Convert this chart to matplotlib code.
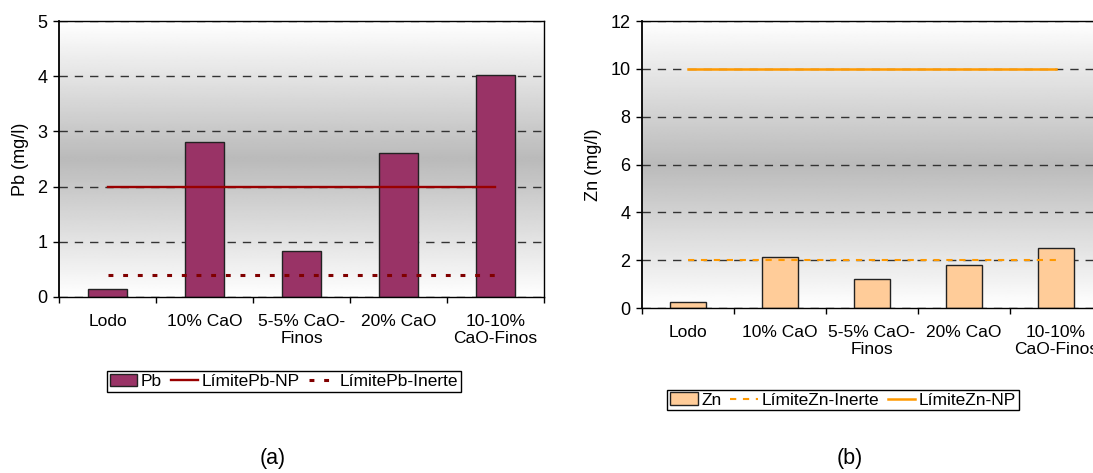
import numpy as np
import matplotlib
matplotlib.use('Agg')
import matplotlib.pyplot as plt

## Data
categorias = ['Lodo', '10% CaO', '5-5% CaO-\nFinos', '20% CaO', '10-10%\nCaO-Finos']
pb = [0.15, 2.80, 0.83, 2.60, 4.02]
pbLimiteNP = 2.0
pbLimiteInerte = 0.4
zn = [0.25, 2.15, 1.22, 1.80, 2.52]
znLimiteInerte = 2.0
znLimiteNP = 10.0

plt.rcParams['font.family'] = ['Liberation Sans', 'DejaVu Sans']

fig = plt.figure(figsize=(10.93, 4.73), dpi=100)
axA = fig.add_axes([0.054, 0.3721, 0.4437, 0.5835])
axB = fig.add_axes([0.5874, 0.3488, 0.4209, 0.6068])


def fondo(ax):
    # vertical gradient: white top and bottom, grey in the middle
    t = np.linspace(0, 1, 256)
    g = 1 - 0.27 * (1 - np.abs(2 * t - 1))
    ax.imshow(g.reshape(-1, 1), extent=[0, 1, 0, 1], transform=ax.transAxes,
              aspect='auto', cmap='gray', vmin=0, vmax=1, zorder=-2,
              interpolation='bilinear')


def formato(ax, ymax, ystep, ylabel):
    x = np.arange(len(categorias))
    ax.set_xlim(-0.5, len(categorias) - 0.5)
    ax.set_ylim(0, ymax)
    ax.set_yticks(np.arange(0, ymax + 0.01, ystep))
    ax.set_xticks(x)
    ax.set_xticklabels(categorias, fontsize=12.5)
    ax.set_xticks(np.arange(-0.5, len(categorias)), minor=True)
    ax.tick_params(axis='x', which='major', length=0, pad=12)
    ax.tick_params(axis='x', which='minor', length=4, width=1, direction='out')
    ax.tick_params(axis='y', length=4.3, width=1, direction='out', pad=4, labelsize=13)
    ax.set_ylabel(ylabel, fontsize=13, labelpad=6)
    ax.yaxis.grid(True, linestyle=(0, (6, 5)), color='#333333', lw=1)
    ax.set_axisbelow(True)
    for s in ax.spines.values():
        s.set_color('black')
        s.set_linewidth(1)
    ax.spines['left'].set_linewidth(1.3)


x = np.arange(len(categorias))

## (a) Pb
fondo(axA)
barA = axA.bar(x, pb, width=0.4, color='#993366', edgecolor='#222222', lw=1, label='Pb', zorder=2)
npA, = axA.plot([x[0], x[-1]], [pbLimiteNP] * 2, color='#990000', lw=1.7, label='LímitePb-NP', zorder=3)
inA, = axA.plot([x[0], x[-1]], [pbLimiteInerte] * 2, color='#800000', lw=2.2,
                linestyle=(0, (1.6, 3.2)), label='LímitePb-Inerte', zorder=3)
formato(axA, 5, 1, 'Pb (mg/l)')

## (b) Zn
fondo(axB)
barB = axB.bar(x, zn, width=0.4, color='#FFCC99', edgecolor='#222222', lw=1, label='Zn', zorder=2)
inB, = axB.plot([x[0], x[-1]], [znLimiteInerte] * 2, color='#FF9900', lw=1.5,
                linestyle=(0, (3, 3.2)), label='LímiteZn-Inerte', zorder=3)
npB, = axB.plot([x[0], x[-1]], [znLimiteNP] * 2, color='#FF9900', lw=1.8, label='LímiteZn-NP', zorder=3)
formato(axB, 12, 2, 'Zn (mg/l)')

for ax, handles, pos in [(axA, [barA, npA, inA], (0.2598, 0.1934)),
                         (axB, [barB, inB, npB], (0.7713, 0.1543))]:
    leg = ax.legend(handles=handles, loc='center', bbox_to_anchor=pos,
                    bbox_transform=fig.transFigure,
                    ncol=3, fontsize=12.5, frameon=True, fancybox=False, framealpha=1,
                    edgecolor='black', borderpad=0.15, handlelength=1.6,
                    handletextpad=0.2, columnspacing=0.5, borderaxespad=0)
    leg.get_frame().set_linewidth(1)

fig.text(0.2498, 0.0317, '(a)', fontsize=15.5, ha='center', va='center')
fig.text(0.7777, 0.0317, '(b)', fontsize=15.5, ha='center', va='center')

fig.savefig('out.png', dpi=100, facecolor='white')
